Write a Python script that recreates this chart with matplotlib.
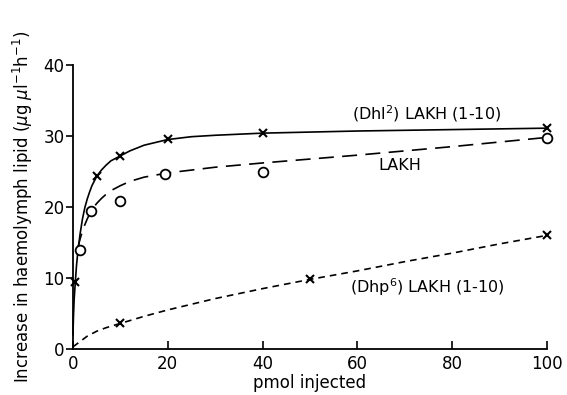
import numpy as np
from matplotlib import pyplot as plt

# measured points
dhl2_x = [0.5, 5, 10, 20, 40, 100]
dhl2_y = [9.5, 24.3, 27.2, 29.6, 30.4, 31.1]
lakh_x = [1.5, 3.7, 10, 19.5, 40, 100]
lakh_y = [14.0, 19.4, 20.9, 24.7, 24.9, 29.7]
dhp6_x = [10, 50, 100]
dhp6_y = [3.6, 9.8, 16.0]

# hand-drawn fit curves
dhl2_fit_x = [0, 0.1, 0.25, 0.5, 0.75, 1, 1.5, 2, 2.5, 3, 3.5, 4, 5, 6, 7, 8, 10, 12, 15, 20, 25, 30, 40, 60, 80, 100]
dhl2_fit_y = [2.0, 4.5, 7.0, 9.5, 11.8, 13.5, 16.2, 18.3, 19.9, 21.1, 22.1, 23.0, 24.3, 25.2, 25.9, 26.5,
              27.2, 27.9, 28.7, 29.5, 29.9, 30.1, 30.4, 30.7, 30.9, 31.1]
lakh_fit_x = [1.0, 1.5, 2, 2.5, 3, 3.5, 4, 5, 6, 7, 8, 10, 12, 15, 20, 25, 30, 40, 60, 80, 100]
lakh_fit_y = [14.2, 15.5, 16.6, 17.5, 18.3, 19.0, 19.6, 20.5, 21.2, 21.8, 22.3, 23.0, 23.6, 24.2, 24.8,
              25.2, 25.6, 26.2, 27.3, 28.5, 29.8]
dhp6_fit_x = [0, 1, 2, 3, 5, 7, 10, 15, 20, 25, 30, 40, 50, 60, 70, 80, 90, 100]
dhp6_fit_y = [0.3, 0.8, 1.3, 1.8, 2.5, 3.0, 3.6, 4.6, 5.5, 6.3, 7.1, 8.5, 9.8, 11.0, 12.3, 13.5, 14.8, 16.0]

if __name__ == "__main__":
    fig = plt.figure(figsize=(5.67, 3.95), dpi=100)
    ax = fig.add_axes([0.1287, 0.1165, 0.836, 0.7190])

    ax.plot(dhl2_fit_x, dhl2_fit_y, color="black", lw=1.2, clip_on=False)
    ax.plot(lakh_fit_x, lakh_fit_y, color="black", lw=1.2, linestyle=(0, (9, 5)), clip_on=False)
    ax.plot(dhp6_fit_x, dhp6_fit_y, color="black", lw=1.2, linestyle=(0, (4, 3)), clip_on=False)

    ax.plot(dhl2_x, dhl2_y, "x", color="black", ms=6, mew=1.5, clip_on=False)
    ax.plot(lakh_x, lakh_y, "o", mfc="white", mec="black", ms=7, mew=1.3, clip_on=False)
    ax.plot(dhp6_x, dhp6_y, "x", color="black", ms=6, mew=1.5, clip_on=False)

    ax.text(74.7, 33.2, r"(Dhl$^2$) LAKH (1-10)", ha="center", va="center", fontsize=11.5)
    ax.text(69, 25.9, "LAKH", ha="center", va="center", fontsize=11.5)
    ax.text(74.7, 8.7, r"(Dhp$^6$) LAKH (1-10)", ha="center", va="center", fontsize=11.5)

    ax.set_xlim(0, 100)
    ax.set_ylim(0, 40)
    ax.set_xticks([0, 20, 40, 60, 80, 100])
    ax.set_yticks([0, 10, 20, 30, 40])
    ax.spines["top"].set_visible(False)
    ax.spines["right"].set_visible(False)
    ax.spines["left"].set_linewidth(1.3)
    ax.spines["bottom"].set_linewidth(1.3)
    ax.tick_params(axis="x", direction="in", length=6, width=1.2, labelsize=12, pad=4)
    ax.tick_params(axis="y", direction="out", length=5, width=1.2, labelsize=12, pad=1)

    ax.set_xlabel("pmol injected", fontsize=12, labelpad=1)
    ax.set_ylabel(r"Increase in haemolymph lipid ($\mu$g $\mu$l$^{-1}$h$^{-1}$)", fontsize=12, labelpad=6)

    plt.savefig("out.png", dpi=100)
